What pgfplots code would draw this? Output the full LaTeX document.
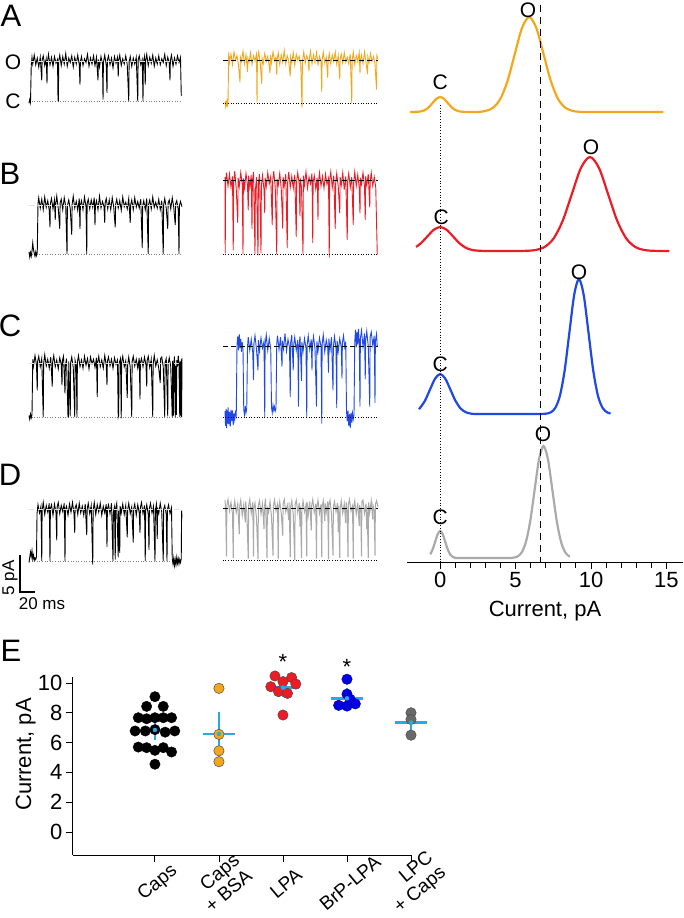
\documentclass[border=0pt]{standalone}
\usepackage{fontspec}
\setmainfont{Liberation Sans}
\usepackage{pgfplots}
\pgfplotsset{compat=1.18}
\definecolor{tr-orange}{RGB}{243,168,28}
\definecolor{tr-red}{RGB}{237,28,36}
\definecolor{tr-blue}{RGB}{31,72,228}
\definecolor{tr-gray}{RGB}{170,170,170}
\definecolor{dot-gray}{RGB}{105,105,105}
\definecolor{meanblue}{RGB}{41,171,226}
\newcommand{\fA}{\fontsize{31}{31}\selectfont}
\newcommand{\fL}{\fontsize{21}{22}\selectfont}
\newcommand{\fT}{\fontsize{22}{22}\selectfont}
\newcommand{\fX}{\fontsize{19}{20}\selectfont}
\newcommand{\fS}{\fontsize{17}{17}\selectfont}
% one axis per trace: time in ms, current in pA (7.4 px per pA, 0.75 px per ms)
\pgfplotsset{
  trace/.style={hide axis, x=0.75pt, y=7.4pt, xmin=0, xmax=204, ymin=-2, ymax=12,
    clip=false, anchor=south west, enlargelimits=false},
  blk/.style={black, line width=0.9pt},
  refO/.style={line width=0.9pt, dash pattern=on 5pt off 3.5pt},
  refC/.style={line width=0.9pt, dash pattern=on 1pt off 1.6pt},
  /pgf/number format/assume math mode=true,
}
\begin{document}
\begin{tikzpicture}[x=1pt,y=1pt]
\useasboundingbox (0,0) rectangle (683,-918);

% panel letters
\node[font=\fA] at (11,-16) {A};
\node[font=\fA] at (10,-174) {B};
\node[font=\fA] at (10,-326) {C};
\node[font=\fA] at (10,-475) {D};
\node[font=\fA] at (11,-651) {E};
\node[font=\fL] at (13,-62) {O};
\node[font=\fL] at (13,-101) {C};

%% ---------------- A ----------------
\begin{axis}[trace, at={(29pt,-115.8pt)}]
\addplot[gray, refC] coordinates {(0,0)(204,0)};
\addplot[blk] coordinates {(0,-0.3)(1,0.2)(2,-0.2)(3,4.8)(4,5.9)(5,5.0)(7,6.2)(9,4.9)(11,5.8)(13,4.6)(15,5.9)(17,2.8)(17.5,5.5)(19,6.1)(21,4.8)(23,5.7)(24,2.4)(24.5,5.2)(26,6.3)(28,4.9)(30,5.9)(32,4.7)(34,6.0)(36,5.1)(38,5.6)(38.7,0)(39.2,0)(39.6,5.4)(41,6.2)(43,4.8)(45,6.0)(47,5.0)(49,6.4)(51,4.7)(53,5.8)(55,5.2)(57,6.1)(59,4.6)(61,5.9)(63,5.0)(65,6.2)(67,4.9)(68,2.2)(68.5,5.3)(70,6.0)(72,4.8)(74,5.7)(76,5.2)(78,6.3)(80,4.7)(82,5.8)(84,5.0)(86,6.1)(88,4.8)(90,5.9)(92,2.8)(92.5,5.6)(94,4.6)(96,6.0)(98,5.0)(98.7,0.2)(99.2,5.2)(101,6.2)(103,4.8)(104,1.1)(104.5,5.5)(106,6.1)(108,4.9)(110,5.8)(112,4.5)(114,6.0)(116,5.1)(118,5.9)(119,3.3)(119.5,5.4)(121,6.2)(123,4.8)(125,5.7)(127,5.0)(129,6.1)(131,4.9)(133,0)(133.5,5.3)(135,6.0)(137,4.7)(139,5.8)(141,5.0)(143,5.9)(145,0)(145.5,5.5)(147,6.1)(149,4.9)(151,5.6)(152,0)(152.5,5.2)(154,6.0)(155,2.2)(155.5,5.4)(157,6.3)(159,4.8)(161,5.9)(163,5.1)(165,6.2)(167,4.7)(169,5.8)(171,5.0)(173,6.1)(175,4.9)(177,5.7)(179,5.2)(181,6.3)(183,4.8)(185,5.9)(187,5.1)(188,2.8)(188.5,5.5)(190,6.2)(192,4.7)(194,5.8)(196,5.0)(198,6.1)(200,5.2)(202,5.9)(203,0.8)(204,0.8)};
\addplot[gray!25, refO] coordinates {(0,5.3)(204,5.3)};
\end{axis}
\begin{axis}[trace, at={(225pt,-117.8pt)}]
\addplot[tr-orange, line width=0.9pt] coordinates {(0,0.2)(0.8,-0.4)(1.5,0.3)(2.2,-0.5)(3,0.6)(3.5,-0.2)(4,0.1)(5,6.9)(6,5.5)(8,6.6)(10,5.2)(12,6.9)(14,5.8)(16,6.4)(18,5.1)(20,2.8)(20.5,6.2)(22,5.6)(24,7.0)(26,5.3)(28,6.5)(30,4.2)(30.5,6.0)(32,5.5)(34,6.8)(36,5.2)(38,6.4)(40,5.7)(42,6.6)(42.7,0.1)(43.2,5.8)(45,6.9)(47,5.4)(49,2.6)(49.5,6.0)(51,5.3)(53,6.7)(55,5.6)(57,6.3)(59,5.0)(60,4.0)(60.5,6.5)(62,5.4)(64,6.9)(66,5.7)(68,6.2)(69,3.8)(69.5,5.9)(71,6.8)(73,5.2)(75,6.5)(77,5.5)(79,7.1)(81,5.3)(83,6.4)(85,5.6)(87,3.6)(87.5,6.2)(89,5.4)(91,6.8)(93,5.1)(95,6.6)(97,5.8)(99,6.3)(101,5.2)(102.7,-0.7)(103.2,5.6)(105,6.9)(107,5.4)(109,6.4)(111,5.7)(112,4.3)(112.5,6.1)(114,7.0)(116,5.3)(118,6.5)(120,5.5)(122,6.8)(124,5.2)(126,6.3)(128,5.6)(129,1.5)(129.5,5.8)(131,6.9)(133,5.4)(135,6.2)(137,3.4)(137.5,5.7)(139,6.7)(141,5.3)(143,6.5)(145,5.6)(147,6.9)(149,5.2)(151,6.4)(153,3.2)(153.5,5.9)(155,6.6)(157,5.4)(159,6.8)(161,5.5)(163,6.2)(165,5.3)(167,6.6)(169,0)(169.5,5.7)(171,6.9)(173,5.2)(175,6.4)(177,5.6)(179,6.8)(180,4.0)(180.5,5.8)(182,6.5)(184,5.3)(186,6.9)(188,5.5)(190,3.9)(190.5,6.2)(192,5.4)(194,6.7)(196,5.6)(198,6.3)(200,5.3)(202,1.8)(202.5,6.4)(204,6.0)};
\addplot[black, refO] coordinates {(-3,5.7)(204,5.7)};
\addplot[black, refC] coordinates {(-3,0)(204,0)};
\end{axis}

%% ---------------- B ----------------
\begin{axis}[trace, at={(29pt,-268.8pt)}]
\addplot[gray, refC] coordinates {(0,0)(204,0)};
\addplot[blk] coordinates {(0,0.3)(1,-0.4)(2,0.2)(3,-0.3)(4,0.4)(5,1.5)(6,0.6)(7,0.1)(8,-0.3)(9,0.3)(10,-0.2)(11,0.2)(12,6.8)(13,7.6)(15,6.2)(17,7.4)(19,6.0)(21,7.7)(23,6.3)(25,7.2)(27,5.9)(28,3.6)(28.5,6.8)(30,7.5)(32,6.1)(34,7.3)(35,4.6)(35.5,6.6)(37,7.8)(39,6.2)(41,3.4)(41.5,6.9)(43,7.4)(45,6.0)(47,7.6)(49,6.4)(50.7,0)(51.2,6.5)(53,7.3)(55,6.1)(57,2.6)(57.5,6.7)(59,7.8)(61,6.2)(63,7.1)(65,5.9)(67,7.5)(68,3.4)(68.5,6.6)(70,7.2)(72,6.0)(74,7.7)(76,6.4)(77,0)(77.5,6.8)(79,7.4)(81,6.1)(83,7.3)(85,6.3)(87,7.6)(88,3.9)(88.5,6.5)(90,7.2)(92,6.0)(94,7.8)(96,6.2)(98,7.1)(100,6.4)(101,4.2)(101.5,6.9)(103,7.5)(105,6.1)(107,7.3)(109,6.0)(111,7.6)(113,6.3)(115,3.6)(115.5,6.7)(117,7.4)(119,6.2)(121,7.2)(123,5.9)(125,7.7)(127,6.4)(129,7.0)(131,6.1)(133,7.5)(135,4.2)(135.5,6.6)(137,7.3)(139,6.0)(141,7.6)(143,6.3)(145,7.1)(147,6.2)(149,7.4)(151,0.8)(151.5,6.5)(153,7.2)(155,6.0)(157,7.5)(159,0)(159.5,6.7)(161,7.3)(163,6.1)(165,7.7)(167,6.3)(169,7.0)(171,6.2)(173,7.4)(175,6.0)(177,7.2)(179,0)(179.5,6.6)(181,7.5)(183,6.2)(185,3.4)(185.5,6.9)(187,7.3)(189,6.1)(191,7.6)(193,6.3)(195,3.9)(195.5,6.8)(197,7.2)(199,6.0)(200,0)(200.5,6.5)(202,7.1)(204,6.4)};
\addplot[gray!25, refO] coordinates {(0,6.6)(204,6.6)};
\end{axis}
\begin{axis}[trace, at={(225pt,-268.8pt)}]
\addplot[tr-red, line width=0.9pt] coordinates {(0,10.4)(0.3,0.1)(0.8,9.6)(2,11.0)(4,9.2)(6,10.8)(8,9.0)(10,10.5)(11,0.5)(11.5,9.7)(13,11.2)(15,8.8)(17,4.2)(17.5,10.3)(19,9.1)(21,11.0)(23,9.4)(24,0)(24.5,10.2)(26,8.9)(28,10.9)(30,9.3)(31,5.9)(31.5,10.6)(33,9.0)(35,10.7)(36,3.4)(36.5,9.8)(38,11.1)(40,0)(40.5,8.6)(42,10.4)(44,-0.2)(44.5,9.5)(46,10.8)(48,0.1)(48.5,9.2)(50,10.6)(52,8.7)(53,5.5)(53.5,10.3)(55,9.1)(57,11.0)(59,9.5)(61,10.5)(63,3.9)(63.5,9.8)(65,11.2)(67,9.0)(69,0)(69.5,10.1)(71,9.3)(73,10.9)(75,8.8)(77,3.4)(77.5,10.4)(79,9.2)(81,10.8)(83,0.8)(83.5,9.6)(85,11.1)(87,9.0)(89,10.5)(91,8.9)(93,10.7)(95,2.3)(95.5,9.8)(97,11.0)(99,9.4)(100,5.1)(100.5,10.2)(102,9.0)(104,0)(104.5,10.6)(106,9.3)(108,11.1)(110,8.9)(112,10.4)(114,9.5)(116,10.9)(117,1.5)(117.5,9.7)(119,10.6)(121,8.8)(123,10.3)(124,4.6)(124.5,9.6)(126,11.0)(128,9.2)(130,10.5)(132,8.9)(134,10.8)(136,9.4)(138,10.2)(139,-0.5)(139.5,9.9)(141,11.1)(143,9.0)(145,10.6)(147,3.4)(147.5,9.5)(149,10.9)(151,9.1)(153,5.5)(153.5,10.4)(155,9.3)(157,11.0)(159,8.7)(161,10.5)(163,1.9)(163.5,9.8)(165,10.9)(167,9.0)(169,10.4)(171,3.9)(171.5,9.6)(173,11.1)(175,9.2)(177,10.7)(179,8.9)(180,5.5)(180.5,10.3)(182,9.4)(184,11.0)(186,9.1)(187,4.6)(187.5,10.5)(189,9.3)(191,10.8)(193,6.3)(193.5,9.7)(195,11.0)(197,9.2)(199,10.4)(201,9.0)(203,0)(204,0)};
\addplot[black, refO] coordinates {(-3,9.9)(204,9.9)};
\addplot[black, refC] coordinates {(-3,0)(204,0)};
\end{axis}

%% ---------------- C ----------------
\begin{axis}[trace, at={(29pt,-431.8pt)}]
\addplot[gray, refC] coordinates {(0,0)(204,0)};
\addplot[blk] coordinates {(0,0.2)(1,-0.3)(2,0.4)(3,-0.1)(4,0.3)(5,7.8)(6,6.9)(8,8.3)(10,7.0)(11,3.6)(11.5,7.5)(13,8.2)(15,6.8)(17,7.9)(19,0)(19.5,7.2)(21,8.4)(23,6.9)(25,7.8)(27,6.6)(29,8.1)(31,4.1)(31.5,7.4)(33,8.3)(35,6.8)(37,7.7)(39,6.5)(41,8.0)(43,7.1)(44,4.3)(44.5,7.6)(46,8.2)(48,3.2)(48.5,7.0)(50,7.9)(52,0)(52.6,0)(53,7.5)(55,0.1)(55.5,7.3)(57,8.1)(59,6.7)(61,0)(61.5,7.6)(63,6.9)(64,0)(64.5,7.4)(66,8.3)(68,6.8)(70,7.7)(72,6.6)(74,8.2)(76,7.0)(78,7.9)(80,6.5)(82,8.1)(84,7.2)(86,7.8)(88,6.7)(90,8.0)(91,2.7)(91.5,7.3)(93,8.2)(95,6.8)(97,7.7)(99,6.6)(101,8.3)(103,7.0)(104,4.3)(104.5,7.5)(106,8.1)(108,6.9)(110,7.8)(112,6.6)(114,8.0)(116,7.1)(118,7.7)(119,0)(119.6,0.2)(120,7.2)(122,7.9)(123,-0.2)(123.5,7.4)(125,8.2)(127,6.8)(129,7.6)(131,2.6)(131.5,7.0)(133,8.1)(135,6.7)(137,0)(137.5,7.5)(139,8.2)(141,6.9)(143,7.8)(145,6.6)(147,8.0)(148,2.4)(148.5,7.3)(150,7.9)(152,6.8)(154,8.1)(156,7.0)(157,4.1)(157.5,7.6)(159,8.2)(161,6.7)(163,7.8)(165,0)(165.5,7.1)(167,8.3)(169,6.9)(171,7.7)(173,6.6)(175,4.6)(175.5,7.9)(177,8.1)(179,6.8)(181,0)(181.5,7.4)(183,7.9)(185,0.1)(185.5,7.2)(187,8.0)(189,6.8)(191,0)(191.5,7.6)(192.5,0.2)(193,7.0)(194,8.2)(195,0)(195.5,6.9)(196.5,0.3)(197,7.7)(198,6.8)(199,8.3)(200,7.0)(201,0)(201.5,7.5)(202.5,0.2)(203,7.8)(203.5,0)(204,8.0)};
\addplot[gray!25, refO] coordinates {(0,7.3)(204,7.3)};
\end{axis}
\begin{axis}[trace, at={(225pt,-431.8pt)}]
\addplot[tr-blue, line width=0.9pt] coordinates {(0,0.8)(0.7,-1.2)(1.4,1.1)(2.1,-1.5)(2.8,0.9)(3.5,-0.9)(4.2,1.3)(5,-1.0)(6,0.7)(7,-1.3)(8,1.0)(9,-0.6)(10,0.9)(11,-1.1)(12,0.5)(13,-0.3)(14,0.6)(15,0.2)(16,9.8)(17,10.9)(18,9.0)(19,11.2)(20,9.3)(21,10.6)(22,8.8)(23,10.1)(24,9.2)(25,1.0)(26,0.3)(27,1.5)(28,0.6)(29,1.2)(30,9.5)(31,10.8)(33,9.0)(35,10.5)(37,8.7)(38,5.0)(38.5,9.9)(40,11.0)(42,9.1)(44,6.3)(44.5,10.4)(46,8.9)(48,10.7)(50,9.3)(52,10.2)(53,0)(53.5,9.8)(55,11.1)(57,9.0)(59,10.6)(61,9.2)(62,1.3)(63,0.6)(64,1.6)(65,0.9)(66,1.4)(67,0.8)(68,1.2)(69,9.9)(70,11.0)(72,9.1)(74,10.8)(76,6.8)(76.5,10.3)(78,9.2)(80,11.3)(82,8.9)(84,10.5)(86,9.4)(87,2.7)(87.5,10.0)(89,11.1)(91,6.3)(91.5,9.6)(93,10.8)(95,9.0)(97,10.4)(98,1.4)(98.5,9.3)(100,10.9)(102,4.9)(102.5,10.1)(104,8.8)(106,10.6)(108,9.3)(109,0)(109.5,9.7)(111,11.0)(113,9.1)(115,10.5)(116,6.3)(116.5,9.6)(118,10.9)(120,9.2)(122,1.4)(122.5,10.2)(124,8.9)(126,10.7)(128,9.5)(129,-0.9)(129.5,9.8)(131,11.1)(133,8.8)(135,10.4)(137,9.3)(138,6.0)(138.5,10.6)(140,9.0)(142,10.8)(144,3.6)(144.5,9.5)(146,10.9)(148,9.2)(149,1.2)(149.5,10.3)(151,8.9)(153,10.6)(155,9.4)(156,5.2)(156.5,10.0)(158,11.0)(160,9.1)(161,10.2)(162,0.8)(163,-0.6)(164,0.9)(165,-1.2)(166,0.4)(167,-1.5)(168,0.6)(169,-0.8)(170,0.5)(171,-0.3)(172,0.3)(173,10.1)(174,11.8)(175,9.4)(176,11.5)(177,9.8)(178,11.9)(179,10.0)(180,1.4)(180.5,10.6)(182,11.7)(184,9.5)(186,11.3)(187,5.1)(187.5,10.2)(189,11.6)(191,9.6)(193,1.4)(193.5,10.8)(195,11.5)(197,9.7)(199,11.0)(200,1.9)(200.5,10.3)(202,11.2)(203,9.5)};
\addplot[black, refO] coordinates {(-3,9.6)(204,9.6)};
\addplot[black, refC] coordinates {(-3,0)(204,0)};
\end{axis}

%% ---------------- D ----------------
\begin{axis}[trace, at={(29pt,-575.8pt)}]
\addplot[gray, refC] coordinates {(0,0)(204,0)};
\addplot[blk] coordinates {(0,-0.2)(1,0.5)(2,1.2)(3,0.6)(4,1.4)(5,0.3)(6,0.8)(7,0.1)(8,0.4)(9,0.2)(10,0.6)(10.7,6.4)(12,7.6)(14,6.5)(16,7.4)(17,0)(17.5,6.8)(19,7.9)(21,6.3)(23,7.5)(25,6.6)(27,7.8)(28,0)(28.5,7.1)(30,7.6)(32,6.2)(34,7.7)(36,6.5)(37,2.8)(37.5,7.3)(39,7.9)(41,6.4)(43,7.5)(45,6.7)(47,7.8)(48,0)(48.5,6.9)(50,7.4)(52,6.2)(54,7.7)(56,6.6)(58,7.9)(60,6.4)(61,3.8)(61.5,7.2)(63,7.6)(65,6.3)(67,7.8)(69,6.5)(71,7.4)(73,6.2)(75,7.7)(77,3.5)(77.5,7.0)(79,7.8)(81,6.4)(83,7.5)(85,-0.5)(85.5,6.8)(87,7.9)(89,6.3)(91,7.6)(93,6.6)(95,7.8)(97,6.2)(99,7.4)(101,6.5)(103,7.7)(104,1.9)(104.5,7.0)(106,7.6)(108,6.4)(110,7.8)(112,0)(112.5,6.6)(114,7.3)(115,0.2)(115.5,7.1)(117,7.8)(119,0.5)(119.5,6.8)(121,1.1)(121.5,7.4)(123,6.5)(125,7.7)(127,6.3)(129,7.5)(131,3.2)(131.5,6.9)(133,7.8)(135,6.4)(137,7.3)(139,2.5)(139.5,7.0)(141,7.7)(143,6.2)(145,7.6)(147,6.5)(148,3.8)(148.5,7.2)(150,7.9)(152,6.4)(154,7.5)(155,0)(155.5,6.8)(157,7.6)(159,6.3)(160,1.5)(160.5,7.1)(162,7.8)(164,6.5)(166,7.4)(168,0)(168.5,6.9)(170,7.7)(171,3.0)(171.5,7.2)(173,6.4)(175,7.8)(177,6.6)(179,0)(179.5,7.0)(181,7.5)(183,6.3)(184,0)(184.5,6.9)(186,7.6)(188,6.4)(190,7.2)(191,0.3)(192,-0.4)(193,0.4)(194,-0.6)(195,0.2)(196,-0.5)(197,0.5)(198,-0.3)(199,0.3)(200,-0.4)(201,0.2)(202,-0.2)(203,0.3)(203.5,6.8)(204,5.9)};
\addplot[gray!25, refO] coordinates {(0,6.9)(204,6.9)};
% scale bar: 5 pA, 20 ms
\addplot[black, line width=1.8pt] coordinates {(-12,0.8)(-12,-4.2)(8,-4.2)};
\node[font=\fS, rotate=90] at (axis cs:-25.3,-2.3) {5 pA};
\node[font=\fS] at (axis cs:17.3,-5.8) {20 ms};
\end{axis}
\begin{axis}[trace, at={(225pt,-574.8pt)}]
\addplot[tr-gray, line width=1pt] coordinates {(0,8.1)(1,6.5)(2,0.5)(2.5,7.4)(4,8.2)(6,6.6)(8,7.8)(10,6.2)(11,0.3)(11.5,7.0)(13,8.0)(15,6.4)(17,7.6)(19,3.5)(19.5,7.2)(21,8.1)(23,6.0)(25,7.5)(27,5.1)(27.5,7.9)(29,6.5)(31,0.2)(31.5,7.3)(33,8.2)(35,6.3)(37,7.8)(38,0.5)(38.5,6.9)(40,7.7)(42,5.6)(44,0.1)(44.5,7.4)(46,8.0)(48,6.2)(50,7.6)(52,4.2)(52.5,7.1)(54,8.3)(56,0.3)(56.5,7.0)(58,6.4)(60,7.9)(62,5.8)(64,0.6)(64.5,7.3)(66,8.1)(68,6.6)(70,7.5)(71,0.2)(71.5,6.8)(73,7.9)(75,6.3)(77,3.3)(77.5,7.6)(79,8.2)(81,6.5)(83,7.4)(85,5.4)(85.5,7.8)(87,0.4)(87.5,7.1)(89,8.0)(91,6.2)(93,0.0)(93.5,7.5)(95,8.1)(97,6.4)(99,7.7)(100,4.5)(100.5,7.2)(102,0.3)(102.5,6.9)(104,8.0)(106,6.5)(108,7.4)(109,0.5)(109.5,7.8)(111,6.1)(113,7.9)(115,4.0)(115.5,7.3)(117,8.2)(119,6.4)(121,7.6)(122,0.2)(122.5,7.0)(124,8.1)(126,6.3)(128,7.5)(129,0.4)(129.5,7.2)(131,8.0)(133,5.3)(133.5,7.7)(135,6.4)(137,7.9)(138,0.1)(138.5,7.4)(140,8.1)(142,6.2)(144,0.6)(144.5,7.1)(146,7.9)(148,6.5)(150,7.7)(151,3.8)(151.5,7.3)(153,0.3)(153.5,6.9)(155,8.0)(157,6.3)(159,7.6)(161,5.0)(161.5,7.8)(163,6.4)(164,0.4)(164.5,7.5)(166,8.2)(168,6.6)(170,7.3)(171,0.2)(171.5,7.0)(173,8.0)(175,6.2)(177,7.7)(179,4.6)(179.5,7.4)(181,6.5)(182,0.5)(182.5,7.9)(184,8.1)(186,6.3)(188,7.6)(189,4.2)(189.5,7.2)(191,0.3)(191.5,7.8)(193,6.4)(195,8.0)(197,5.5)(197.5,7.3)(199,6.6)(200,0.6)(200.5,7.5)(202,8.0)(204,7.2)};
\addplot[black, refO] coordinates {(-3,7.0)(204,7.0)};
\addplot[black, refC] coordinates {(-3,0)(204,0)};
\end{axis}

%% ---------------- amplitude histograms (stacked, offset in px) ----------------
\begin{axis}[at={(407pt,-562pt)}, anchor=south west, scale only axis,
  width=276pt, height=562pt, xmin=-2.2, xmax=16.1, ymin=0, ymax=562,
  enlargelimits=false, clip=false,
  axis x line=bottom, axis y line=none, axis line style={-, line width=1pt},
  xtick={0,5,10,15}, minor x tick num=4, tick align=outside,
  major tick length=7pt, minor tick length=6pt,
  every tick/.style={black, line width=0.9pt},
  xticklabel style={font=\fT},
  xlabel={Current, pA}, xlabel style={font=\fT, yshift=-6pt},
  every axis plot/.append style={line width=2.2pt, smooth}]
\addplot[tr-orange] coordinates {(-2,450)(-1.5,450.2)(-1.25,450.7)(-1,452)(-0.75,454.9)(-0.5,459.1)(-0.25,463.2)(0,465)(0.25,463.2)(0.5,459.1)(0.75,454.9)(1,452)(1.25,450.7)(1.5,450.2)(2,450)(2.5,450)(3.02,451.1)(3.5,454.2)(3.98,462.9)(4.46,480.8)(4.94,507.6)(5.42,533.8)(5.9,545)(6.38,533.8)(6.86,507.6)(7.34,480.8)(7.82,462.9)(8.3,454.2)(8.78,451.1)(9.26,450.2)(10,450)(14.8,450)};
\addplot[tr-red] coordinates {(-1.6,315.1)(-1.275,318.8)(-0.85,325.6)(-0.425,332.2)(0,335)(0.425,332.2)(0.85,325.6)(1.275,318.8)(1.7,314.2)(2.125,312)(2.55,311.3)(3.2,311)(5,311)(5.73,311.2)(6.33,312)(6.93,315.1)(7.53,323.7)(8.13,341.5)(8.73,368)(9.33,394)(9.93,405)(10.53,394)(11.13,368)(11.73,341.5)(12.33,323.7)(12.93,315.1)(13.53,312)(14.13,311.2)(15.2,311)};
\addplot[tr-blue] coordinates {(-1.4,152.8)(-1.02,161)(-0.68,172.3)(-0.34,183.3)(0,188)(0.34,183.3)(0.68,172.3)(1.02,161)(1.36,153.4)(1.7,149.8)(2.04,148.4)(2.6,148)(6,148)(6.68,148.1)(6.995,148.3)(7.31,149.5)(7.625,153.9)(7.94,166.3)(8.255,191.8)(8.57,229.9)(8.885,267.1)(9.2,283)(9.515,267.1)(9.83,229.9)(10.145,191.8)(10.46,166.3)(10.775,153.9)(11.09,149.5)(11.3,148.6)};
\addplot[tr-gray] coordinates {(-0.66,7.65)(-0.495,12.8)(-0.33,20.4)(-0.165,27.8)(0,31)(0.165,27.8)(0.33,20.4)(0.495,12.8)(0.66,7.65)(0.825,5.2)(0.99,4.3)(1.3,4)(4.4,4)(4.785,4.25)(5.08,5.24)(5.375,8.9)(5.67,19.2)(5.965,40.4)(6.26,71.9)(6.555,102.8)(6.85,116)(7.145,102.8)(7.44,71.9)(7.735,40.4)(8.03,19.2)(8.325,8.9)(8.6,5.3)};
\addplot[black, line width=1.1pt, dash pattern=on 1pt off 1.8pt, sharp plot] coordinates {(0,457)(0,0)};
\addplot[black, line width=1.3pt, dash pattern=on 7pt off 5pt, sharp plot] coordinates {(6.63,557)(6.63,0)};
\node[font=\fL] at (axis cs:5.83,552) {O};
\node[font=\fL] at (axis cs:0,480) {C};
\node[font=\fL] at (axis cs:10.0,415) {O};
\node[font=\fL] at (axis cs:0.07,345) {C};
\node[font=\fL] at (axis cs:9.2,290) {O};
\node[font=\fL] at (axis cs:0,198) {C};
\node[font=\fL] at (axis cs:6.82,128) {O};
\node[font=\fL] at (axis cs:0,45) {C};
\end{axis}

%% ---------------- E: single-channel current amplitudes ----------------
\begin{axis}[at={(73pt,-855pt)}, anchor=south west, scale only axis,
  width=338pt, height=177.7pt, xmin=-1.28, xmax=4, ymin=-1.54, ymax=10.38,
  enlargelimits=false, clip=false,
  axis lines=left, axis line style={-, line width=1pt},
  xtick={0,1,2,3,4},
  xticklabels={Caps, {Caps\\+ BSA}, LPA, BrP-LPA, {LPC\\+ Caps}},
  ytick={0,2,4,6,8,10}, tick align=outside, major tick length=7pt,
  every tick/.style={black, line width=0.9pt},
  yticklabel style={font=\fT},
  xticklabel style={font=\fX, yshift=-21pt, xshift=3pt, rotate=40, anchor=center, align=right},
  mk/.style={only marks, mark=*, mark size=5.2pt}]
\node[font=\fT, rotate=90] at (axis cs:-2.02,5.2) {Current, pA};
\addplot[mk, mark options={draw=black, fill=black}] coordinates {(0,9.08)(-0.13,8.43)(0.13,8.43)(-0.26,7.67)(-0.13,7.6)(0,7.67)(0.13,7.67)(0.26,7.67)(-0.31,6.78)(-0.15,6.78)(0,6.87)(0.16,6.7)(0.31,6.78)(-0.26,5.7)(-0.13,5.66)(0,5.48)(0.13,5.66)(0.26,5.37)(0,4.55)};
\addplot[mk, mark options={draw=black!70, fill=tr-orange, line width=0.5pt}] coordinates {(1,9.64)(1,6.55)(1,5.45)(1,4.72)};
\addplot[mk, mark options={draw=black!70, fill=tr-red, line width=0.5pt}] coordinates {(1.875,10.47)(2.135,10.36)(2,10.09)(1.81,9.75)(2.2,9.93)(1.93,9.42)(2.07,9.3)(2,7.85)};
\addplot[mk, mark options={draw=blue!60!black, fill=blue!90!black, line width=0.5pt}] coordinates {(3,10.25)(3,9.25)(3.05,8.9)(2.87,8.5)(3.13,8.6)(3,8.45)};
\addplot[mk, mark options={draw=black!70, fill=dot-gray, line width=0.5pt}] coordinates {(4,8.0)(4,7.55)(4,6.5)};
% mean lines
\addplot[meanblue, line width=2.4pt] coordinates {(-0.31,6.85)(0.31,6.85)};
\addplot[meanblue, line width=2.4pt] coordinates {(0.75,6.58)(1.25,6.58)};
\addplot[meanblue, line width=2.4pt] coordinates {(1.75,9.69)(2.25,9.69)};
\addplot[meanblue, line width=2.4pt] coordinates {(2.75,8.97)(3.25,8.97)};
\addplot[meanblue, line width=2.4pt] coordinates {(3.75,7.34)(4.25,7.34)};
% SEM
\addplot[meanblue, only marks, mark=none,
  error bars/.cd, y dir=both, y explicit,
  error bar style={meanblue, line width=2pt},
  error mark options={meanblue, line width=2pt, mark size=6.5pt}]
  coordinates {(0,6.85) +- (0,0.26) (1,6.58) +- (0,1.05) (2,9.69) +- (0,0.22) (3,8.97) +- (0,0.26) (4,7.34) +- (0,0.45)};
\node[font=\fT] at (axis cs:2,11.4) {*};
\node[font=\fT] at (axis cs:3,11.1) {*};
\end{axis}
\end{tikzpicture}
\end{document}
